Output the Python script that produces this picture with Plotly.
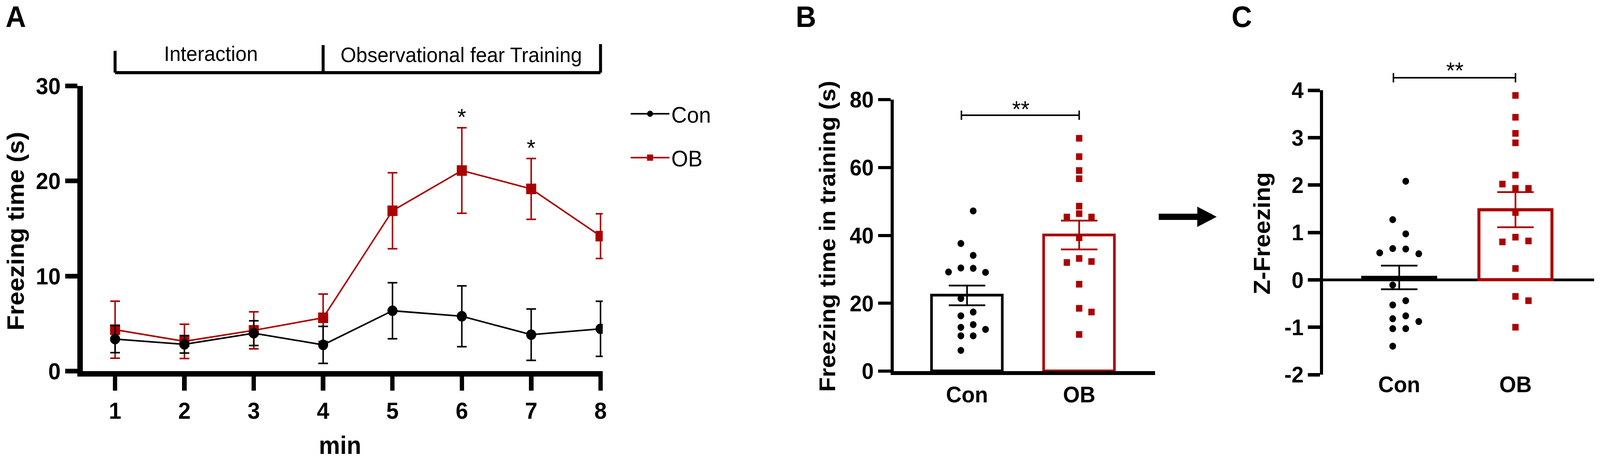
import plotly.graph_objects as go

# ---- data ----
minutes = [1, 2, 3, 4, 5, 6, 7, 8]
con_mean = [3.37, 2.82, 3.99, 2.76, 6.35, 5.77, 3.83, 4.45]
con_sem = [1.43, 0.92, 1.30, 1.95, 2.95, 3.20, 2.70, 2.90]
ob_mean = [4.36, 3.13, 4.29, 5.61, 16.87, 21.10, 19.17, 14.20]
ob_sem = [3.00, 1.80, 1.95, 2.50, 4.00, 4.50, 3.20, 2.35]
star_minutes = [6, 7]

groups = ["Con", "OB"]
train_mean = [22.3, 40.1]
train_sem = [2.9, 4.25]
train_con = [47.2, 37.6, 34.1, 29.2, 29.1, 30.3, 30.4, 21.4,
             16.3, 17.4, 12.3, 13.7, 12.9, 10.4, 10.4, 6.1]
train_ob = [68.6, 63.2, 59.1, 56.7, 48.6, 46.4, 45.4, 45.4,
            39.3, 32.0, 32.3, 33.2, 25.6, 18.5, 17.4, 10.8]

z_mean = [0.05, 1.48]
z_sem = [0.25, 0.37]
z_con = [2.08, 1.27, 0.97, 0.66, 0.65, 0.57, 0.55, -0.11,
         -0.44, -0.53, -0.76, -0.82, -0.88, -1.03, -1.03, -1.40]
z_ob = [3.89, 3.43, 3.09, 2.89, 2.21, 2.02, 1.93, 1.93,
        1.42, 0.82, 0.90, 0.80, 0.24, -0.35, -0.44, -1.00]

FONT = "Liberation Sans, Arial, sans-serif"
RED = "#AA0000"
W, H = 4295, 1175


def px_x(p):
    return p / W


def px_y(p):
    return 1 - p / H


def swarm(values, step, thr, half):
    """Prism-like dot arrangement: overlapping points get pushed to side slots."""
    order = sorted(range(len(values)), key=lambda i: -values[i])
    base = [0.5, -0.5, 1.5, -1.5, 2.5, -2.5] if half else [0, 1, -1, 2, -2]
    placed = []
    offs = [0.0] * len(values)
    for k, i in enumerate(order):
        cand = base if k % 2 == 0 else [-b for b in base]
        slot = cand[-1]
        for s in cand:
            if all(not (ps == s and abs(pv - values[i]) < thr) for ps, pv in placed):
                slot = s
                break
        placed.append((slot, values[i]))
        offs[i] = slot * step
    return offs


fig = go.Figure()

# ---- panel A ----
fig.add_trace(go.Scatter(
    x=minutes, y=ob_mean, name="OB", mode="lines+markers", legendgroup="ob", legendrank=2,
    line=dict(color=RED, width=4),
    marker=dict(symbol="square", size=27, color=RED),
    error_y=dict(type="data", array=ob_sem, color=RED, thickness=4, width=13),
    xaxis="x", yaxis="y"))
fig.add_trace(go.Scatter(
    x=minutes, y=con_mean, name="Con", mode="lines+markers", legendgroup="con", legendrank=1,
    line=dict(color="black", width=4),
    marker=dict(symbol="circle", size=27, color="black"),
    error_y=dict(type="data", array=con_sem, color="black", thickness=4, width=13),
    xaxis="x", yaxis="y"))


def bar_panel(xa, ya, means, sems, con_pts, ob_pts, step, thr, lw):
    cols = ["black", RED]
    for i in range(2):
        fig.add_trace(go.Bar(
            x=[i], y=[means[i]], width=0.63, showlegend=False,
            marker=dict(color="white", line=dict(color=cols[i], width=lw)),
            error_y=dict(type="data", array=[sems[i]], color=cols[i], thickness=4.5, width=49),
            xaxis=xa, yaxis=ya))
    fig.add_trace(go.Scatter(
        x=[0 + o for o in swarm(con_pts, step, thr, True)], y=con_pts, mode="markers",
        showlegend=False, marker=dict(symbol="circle", size=18, color="black"),
        xaxis=xa, yaxis=ya))
    fig.add_trace(go.Scatter(
        x=[1 + o for o in swarm(ob_pts, step, thr, False)], y=ob_pts, mode="markers",
        showlegend=False, marker=dict(symbol="square", size=17, color=RED),
        xaxis=xa, yaxis=ya))


bar_panel("x2", "y2", train_mean, train_sem, train_con, train_ob, 0.11, 2.0, 7)
bar_panel("x3", "y3", z_mean, z_sem, z_con, z_ob, 0.112, 0.195, 8)


def axis_common(**kw):
    d = dict(showgrid=False, zeroline=False, showline=True, linecolor="black",
             ticks="outside", tickcolor="black", color="black")
    d.update(kw)
    return d


def bold(s):
    return dict(family=FONT, size=s, color="black", weight="bold")


plain = dict(family=FONT, size=60, color="black")
z_ticks = [-2, -1, 0, 1, 2, 3, 4]

fig.update_layout(
    width=W, height=H,
    margin=dict(l=0, r=0, t=0, b=0, autoexpand=False),
    paper_bgcolor="white", plot_bgcolor="rgba(0,0,0,0)",
    font=dict(family=FONT, color="black"),
    xaxis=axis_common(domain=[px_x(222), px_x(1618)], range=[0.533, 8.032],
                      tickvals=minutes, linewidth=14, ticklen=36, tickwidth=12,
                      tickfont=bold(60), anchor="y"),
    yaxis=axis_common(domain=[px_y(950), px_y(220)], range=[0, 30],
                      tickvals=[0, 10, 20, 30], linewidth=14, ticklen=33, tickwidth=12,
                      tickfont=bold(60), anchor="x"),
    xaxis2=axis_common(domain=[px_x(2399), px_x(3101)], range=[-0.654, 1.678],
                       tickvals=[0, 1], ticktext=groups, linewidth=10, ticks="",
                       tickfont=bold(58), anchor="y2"),
    yaxis2=axis_common(domain=[px_y(950), px_y(255)], range=[0, 80],
                       tickvals=[0, 20, 40, 60, 80], linewidth=8, ticklen=34, tickwidth=8,
                       tickfont=bold(58), anchor="x2"),
    # C's category labels sit a little closer to the panel than plotly's default
    xaxis3=axis_common(domain=[px_x(3552), px_x(4279)], range=[-0.654, 1.676],
                       tickvals=[0, 1], ticktext=groups, showline=False, ticks="",
                       tickfont=bold(58), anchor="free", position=px_y(945)),
    yaxis3=axis_common(domain=[px_y(959), px_y(231)], range=[-2, 4],
                       tickvals=z_ticks, ticktext=[str(v) for v in z_ticks],
                       linewidth=9, ticklen=32, tickwidth=9, tickfont=bold(58),
                       zeroline=True, zerolinecolor="black", zerolinewidth=7, anchor="x3"),
    legend=dict(x=px_x(1688), y=px_y(247), xanchor="left", yanchor="top",
                font=dict(family=FONT, size=58, color="black"),
                itemwidth=104, tracegroupgap=34, bgcolor="rgba(0,0,0,0)"),
    showlegend=True,
    bargap=0,
)


def note(text, xp, yp, font, angle=0):
    return dict(text=text, x=px_x(xp), y=px_y(yp), xref="paper", yref="paper",
                xanchor="center", yanchor="middle", textangle=angle,
                showarrow=False, font=font)


ann = []
# panel letters
for txt, xp in [("A", 42), ("B", 2163), ("C", 3333)]:
    ann.append(note(txt, xp, 42, bold(76)))
# axis titles
ann.append(note("Freezing time (s)", 42, 592, bold(64), -90))
ann.append(note("min", 913, 1140, bold(64)))
ann.append(note("Freezing time in training (s)", 2221, 605, bold(61), -90))
ann.append(note("Z-Freezing", 3387, 598, bold(62), -90))
# phase labels above panel A
ann.append(dict(text="Interaction", x=2.38, y=px_y(137), xref="x", yref="paper",
                xanchor="center", yanchor="middle", showarrow=False,
                font=dict(family=FONT, size=54, color="black")))
ann.append(dict(text="Observational fear Training", x=5.99, y=px_y(140), xref="x", yref="paper",
                xanchor="center", yanchor="middle", showarrow=False,
                font=dict(family=FONT, size=54, color="black")))
# significance stars panel A
for m in star_minutes:
    i = minutes.index(m)
    ann.append(dict(text="*", x=m, y=ob_mean[i] + ob_sem[i], xref="x", yref="y",
                    xanchor="center", yanchor="bottom", yshift=-8, showarrow=False,
                    font=plain))
# stars B, C
ann.append(dict(text="**", x=0.48, y=77.2, xref="x2", yref="y2", xanchor="center",
                yanchor="middle", showarrow=False, font=plain))
ann.append(dict(text="**", x=0.48, y=px_y(181), xref="x3", yref="paper", xanchor="center",
                yanchor="middle", showarrow=False, font=plain))
# arrow between B and C
ann.append(dict(text="", x=px_x(3266), y=px_y(555), xref="paper", yref="paper",
                ax=-157, ay=0, showarrow=True, arrowhead=2, arrowwidth=16,
                arrowsize=0.65, arrowcolor="black"))
fig.update_layout(annotations=ann)

shapes = []
# phase bracket over panel A (x in data, y in axis-domain fractions)
ya = lambda v: v / 30.0
blk = dict(color="black", width=8)
shapes.append(dict(type="line", xref="x", yref="y domain", x0=1, x1=8, y0=ya(31.4), y1=ya(31.4), line=blk))
shapes.append(dict(type="line", xref="x", yref="y domain", x0=1, x1=1, y0=ya(31.4), y1=ya(33.7), line=blk))
shapes.append(dict(type="line", xref="x", yref="y domain", x0=4, x1=4, y0=ya(31.4), y1=ya(34.3), line=blk))
shapes.append(dict(type="line", xref="x", yref="y domain", x0=8, x1=8, y0=ya(31.4), y1=ya(34.4), line=blk))


def sig_bracket(xr, yr, lo, hi, yv, dv):
    dom = lambda v: (v - lo) / (hi - lo)
    ln = dict(color="black", width=4)
    out = [dict(type="line", xref=xr, yref=yr + " domain", x0=-0.05, x1=1.0,
                y0=dom(yv), y1=dom(yv), line=ln)]
    for xv in (-0.05, 1.0):
        out.append(dict(type="line", xref=xr, yref=yr + " domain", x0=xv, x1=xv,
                        y0=dom(yv - dv), y1=dom(yv + dv), line=ln))
    return out


shapes += sig_bracket("x2", "y2", 0, 80, 75.4, 1.38)
shapes += sig_bracket("x3", "y3", -2, 4, 4.264, 0.099)
fig.update_layout(shapes=shapes)

# the figure is laid out at 4295x1175; scale the div to whatever the viewport really is
fit_js = (
    "document.body.style.margin='0';document.body.style.overflow='hidden';"
    "var gd=document.getElementById('{plot_id}');"
    "var sx=window.innerWidth/%d, sy=window.innerHeight/%d;"
    "gd.style.transformOrigin='0 0';"
    "gd.style.transform='scale('+sx+','+sy+')';" % (W, H)
)
fig.write_html("out.html", config={"displayModeBar": False}, post_script=fit_js)
